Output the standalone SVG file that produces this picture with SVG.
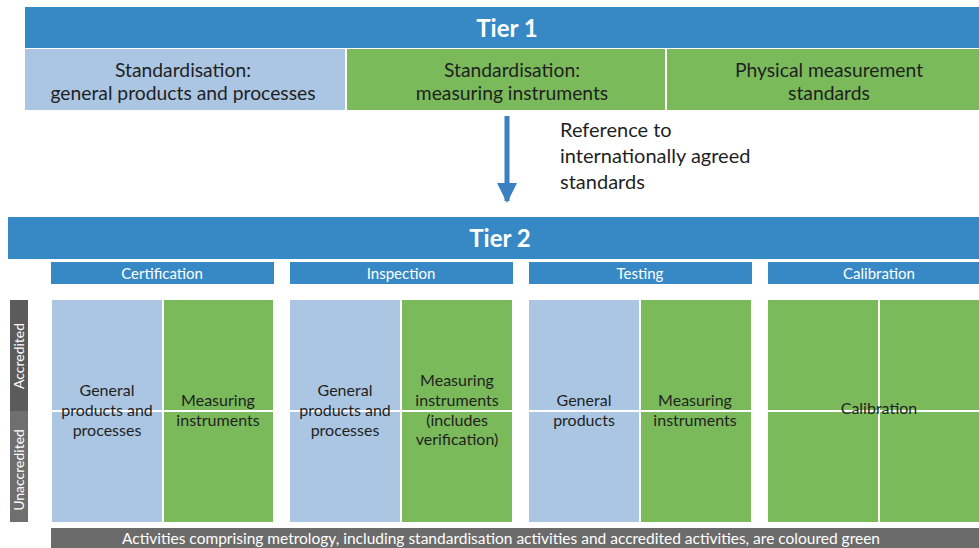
<svg xmlns="http://www.w3.org/2000/svg" width="979" height="548" viewBox="0 0 979 548">
<defs>
<style>
.hdr{fill:#3789c5}
.lb{fill:#abc6e3}
.gr{fill:#7aba5b}
.t{font-family:Lato,"Open Sans","Liberation Sans",sans-serif;fill:#1f1f1f}
.w{font-family:Lato,"Open Sans","Liberation Sans",sans-serif;fill:#ffffff}
.sep{stroke:#ffffff;stroke-width:2}
</style>
<marker id="ah" viewBox="0 0 10 10" refX="9" refY="5" markerWidth="4" markerHeight="4" orient="auto" markerUnits="strokeWidth">
<path d="M0,0 L10,5 L0,10 z" fill="#3b80c1"/>
</marker>
</defs>
<rect width="979" height="548" fill="#ffffff"/>

<g id="tier1">
<rect class="hdr" x="25" y="7" width="954" height="41"/>
<text class="w" x="507" y="37" font-size="24" font-weight="bold" text-anchor="middle">Tier 1</text>
</g>
<g id="std-general">
<rect class="lb" x="25" y="49" width="320" height="61"/>
<text class="t" x="183" y="77" font-size="19.3" text-anchor="middle">Standardisation:</text>
<text class="t" x="183" y="100" font-size="19.3" text-anchor="middle">general products and processes</text>
</g>
<g id="std-instruments">
<rect class="gr" x="347" y="49" width="318" height="61"/>
<text class="t" x="512" y="77" font-size="19.3" text-anchor="middle">Standardisation:</text>
<text class="t" x="512" y="100" font-size="19.3" text-anchor="middle">measuring instruments</text>
</g>
<g id="physical">
<rect class="gr" x="667" y="49" width="312" height="61"/>
<text class="t" x="829" y="77" font-size="19.3" text-anchor="middle">Physical measurement</text>
<text class="t" x="829" y="100" font-size="19.3" text-anchor="middle">standards</text>
</g>

<g id="connectors">
<line x1="507" y1="116" x2="507" y2="201" stroke="#3b80c1" stroke-width="5" marker-end="url(#ah)"/>
</g>
<g id="ref-label">
<text class="t" x="560" y="137" font-size="20">Reference to</text>
<text class="t" x="560" y="163" font-size="20">internationally agreed</text>
<text class="t" x="560" y="189" font-size="20">standards</text>
</g>

<g id="tier2">
<rect class="hdr" x="8" y="217" width="971" height="42"/>
<text class="w" x="500" y="247" font-size="24" font-weight="bold" text-anchor="middle">Tier 2</text>
</g>

<g id="certification">
<rect class="hdr" x="51" y="262" width="223" height="22"/>
<text class="w" x="162" y="279" font-size="15" text-anchor="middle">Certification</text>
<rect class="lb" x="52" y="300" width="111" height="222"/>
<rect class="gr" x="163" y="300" width="110" height="222"/>
<line class="sep" x1="163" y1="300" x2="163" y2="522"/>
<line class="sep" x1="52" y1="411" x2="273" y2="411"/>
<text class="t" x="107" y="396" font-size="16" text-anchor="middle">General</text>
<text class="t" x="107" y="416" font-size="16" text-anchor="middle">products and</text>
<text class="t" x="107" y="436" font-size="16" text-anchor="middle">processes</text>
<text class="t" x="218" y="406" font-size="16" text-anchor="middle">Measuring</text>
<text class="t" x="218" y="426" font-size="16" text-anchor="middle">instruments</text>
</g>

<g id="inspection">
<rect class="hdr" x="290" y="262" width="223" height="22"/>
<text class="w" x="401" y="279" font-size="15" text-anchor="middle">Inspection</text>
<rect class="lb" x="290" y="300" width="111" height="222"/>
<rect class="gr" x="401" y="300" width="111" height="222"/>
<line class="sep" x1="401" y1="300" x2="401" y2="522"/>
<line class="sep" x1="290" y1="411" x2="512" y2="411"/>
<text class="t" x="345" y="396" font-size="16" text-anchor="middle">General</text>
<text class="t" x="345" y="416" font-size="16" text-anchor="middle">products and</text>
<text class="t" x="345" y="436" font-size="16" text-anchor="middle">processes</text>
<text class="t" x="457" y="386" font-size="16" text-anchor="middle">Measuring</text>
<text class="t" x="457" y="406" font-size="16" text-anchor="middle">instruments</text>
<text class="t" x="457" y="426" font-size="16" text-anchor="middle">(includes</text>
<text class="t" x="457" y="445" font-size="16" text-anchor="middle">verification)</text>
</g>

<g id="testing">
<rect class="hdr" x="529" y="262" width="223" height="22"/>
<text class="w" x="640" y="279" font-size="15" text-anchor="middle">Testing</text>
<rect class="lb" x="529" y="300" width="111" height="222"/>
<rect class="gr" x="640" y="300" width="111" height="222"/>
<line class="sep" x1="640" y1="300" x2="640" y2="522"/>
<line class="sep" x1="529" y1="411" x2="751" y2="411"/>
<text class="t" x="584" y="406" font-size="16" text-anchor="middle">General</text>
<text class="t" x="584" y="426" font-size="16" text-anchor="middle">products</text>
<text class="t" x="695" y="406" font-size="16" text-anchor="middle">Measuring</text>
<text class="t" x="695" y="426" font-size="16" text-anchor="middle">instruments</text>
</g>

<g id="calibration">
<rect class="hdr" x="768" y="262" width="211" height="22"/>
<text class="w" x="879" y="279" font-size="15" text-anchor="middle">Calibration</text>
<rect class="gr" x="768" y="300" width="211" height="222"/>
<line class="sep" x1="879" y1="300" x2="879" y2="522"/>
<line class="sep" x1="768" y1="411" x2="979" y2="411"/>
<text class="t" x="879" y="414" font-size="16" text-anchor="middle">Calibration</text>
</g>

<g id="accreditation">
<rect x="10" y="300" width="18" height="111" fill="#5b5b5b"/>
<rect x="10" y="411" width="18" height="111" fill="#6f6f6f"/>
<text class="w" transform="translate(24,356) rotate(-90)" font-size="14" text-anchor="middle">Accredited</text>
<text class="w" transform="translate(24,470) rotate(-90)" font-size="14" text-anchor="middle">Unaccredited</text>
</g>

<g id="footer">
<rect x="51" y="528" width="928" height="20" fill="#6b6b6b"/>
<text class="w" x="501" y="544" font-size="15.5" text-anchor="middle">Activities comprising metrology, including standardisation activities and accredited activities, are coloured green</text>
</g>
</svg>
